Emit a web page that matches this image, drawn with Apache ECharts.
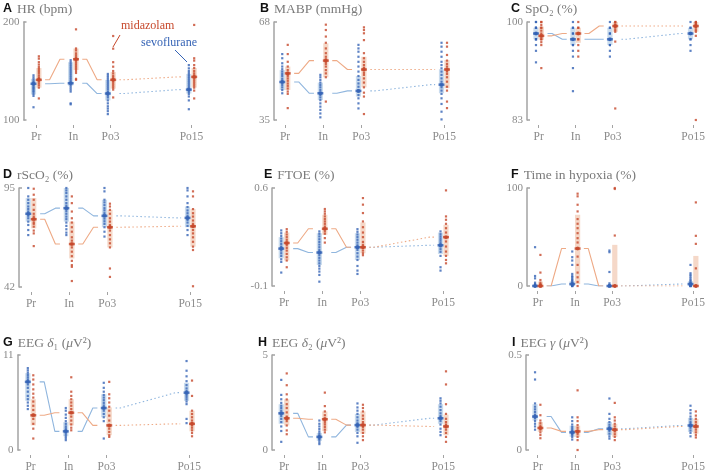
<!DOCTYPE html>
<html><head><meta charset="utf-8">
<script src="https://cdn.jsdelivr.net/npm/echarts@6/dist/echarts.min.js"></script>
<style>html,body{margin:0;padding:0;background:#fff}#c{width:708px;height:473px}</style>
</head><body><div id="c"></div>
<script>
// ---------- categories ----------
const times = ['Pr', 'In', 'Po3', 'Po15'];
const timePos = [0, 1, 2, 4.18];
const groups = ['sevoflurane', 'midazolam'];

// ---------- A: HR (bpm) ----------
const hrSevo = [
  [145.6,143.5,141.5,139.5,138.1,136.8,135.4,134.0,132.7,131.3,130.0,128.6,126.6,124.6,113],
  [161,159,157,155,153,151,149,147,145,143,141,139,137.5,135,133,131,129,117,116],
  [147,145,143,141,139,137,135,133,131,128.6,127,125,123,120,117,114,111.6,109,106],
  [156,152.7,150,148,146,144,142,140,138,136,134,132,130.6,128.6,126.6,124,120,111]
];
const hrMida = [
  [165,162.6,159,156.5,154,152,150,148,145.6,143.5,142,141,139.5,137.5,135.4,133,122],
  [192.5,173,171,168,166,164,162,160,158,156,154,152,150,148,142,141],
  [185.7,172.8,159,154.4,150,147.6,145,143,141,139,137,135,133,131,123],
  [197,163,160.6,156,153,150,147.6,145.6,143.5,141,139,137,135,133,130,122]
];
const hrSevoMed = [137,137.5,127,131];
const hrSevoIQR = [[126,142],[135,159],[120,141],[127,147]];
const hrMidaMed = [141,162,141,144];
const hrMidaIQR = [[133,153],[151,173],[132,149],[133,153]];

// ---------- B: MABP (mmHg) ----------
const mapSevo = [
  [57.2,55.8,54.1,53,52.1,51.3,50.5,49.8,48.9,48.2,47.6,46.8,46,45.1,44],
  [50.2,49.4,48.5,47.6,46.8,46,45.1,44.2,43.4,42.6,41.7,40.6,39.5,38.4,37.2,35.9],
  [60.3,59.1,58,56.3,54.6,53,51.3,49.8,48.5,47.3,46.2,45.1,44.6,43.4,42.3,40.6,38.9],
  [61,59.7,58,56.3,54.6,53.5,52.4,51.3,50.2,49,47.9,46.9,46,44.9,43.8,42.3,40.4,37.8,35.2]
];
const mapMida = [
  [60.3,57.2,54.6,53,51.8,50.9,50.5,49.8,49,48.2,47.3,46.5,45.6,44.6,43.8,39],
  [67.1,65.3,63.1,61,59.1,57.5,56.3,55.4,54.6,53.9,53,51.8,50.7,49.4,41.2],
  [66.2,65.3,64.2,61.9,57.5,55.8,54.6,53.5,52.6,51.8,50.9,50.2,49,47.6,46,44.2,42.9,37],
  [61,59.7,56.9,55,53.9,53,52.1,51.3,50.5,49.4,47.9,46.2,44.9,41.2,39]
];
const mapSevoMed = [47.8,44,44.8,46.9];
const mapSevoIQR = [[45.1,51.8],[41.7,47.6],[42.9,49.8],[44,52.1]];
const mapMidaMed = [50.7,55,52,52];
const mapMidaIQR = [[45.1,53],[49.4,60.8],[46,56.3],[45.7,55.2]];

// ---------- C: SpO2 (%) ----------
const spoSevo = [
  [100,100,99,99,99,98,98,98,98,97,97,97,96,95,93],
  [100,99,99,98,98,97,97,97,97,96,96,95,94,92,88],
  [100,99,99,98,98,97,97,97,97,96,96,95,94],
  [100,99,99,98,98,98,98,97,97,96,95]
];
const spoMida = [
  [100,100,99.5,99,99,98.5,98,97.5,97.5,97,97,96.5,96,92],
  [100,99,99,98,98,98,97,97,96,95,94],
  [100,100,99.6,99.3,99.3,99,98.6,98.3,96.6,85],
  [100,100,99.8,99.6,99.3,99.3,99,98.6,98.3,97.6,83]
];
const spoSevoMed = [98,97,97,98];
const spoSevoIQR = [[97,99],[96,99],[96,99],[97,99]];
const spoMidaMed = [97.6,98,99.3,99.3];
const spoMidaIQR = [[96.9,99.2],[96.4,99],[98.3,100],[98.3,100]];

// ---------- D: rScO2 (%) ----------
const rsoSevo = [
  [95,90.5,88.7,86.9,85.1,83.7,82.4,81.2,80.1,78.8,77,75.2,72.5,69.8],
  [95,93.7,92.3,90.5,88.7,86.9,85.5,84,82.6,81.2,79.7,78.3,76.5,74.7,72.9,71.1,69.8],
  [95,93.2,88.7,87.3,85.8,84.2,83,81.5,80.1,78.6,77.2,75.8,74,71.6,69],
  [95,93.7,90.5,86.9,84.8,83,81.5,80.1,79,77.9,76.5,74.7,72.5,69.8]
];
const rsoMida = [
  [94.6,91.4,88.7,86,83.3,81.2,79.7,78.6,76.6,75.8,74.3,72.2,70.7,63.9],
  [90.5,86.9,82.4,78.8,76.5,74,71.6,68.6,66.8,65,63.2,60.9,58.5,56,53.7,52.8,45.2],
  [86.6,85.1,83.3,81.2,78.8,77,75.2,74,72.2,69.8,67.5,65.4,63.2,51.9,47.4],
  [93.2,90.5,83.7,81.5,79.7,77.6,75.8,74.3,72.5,70.7,68.6,66.2,63.6,61.8,42.4]
];
const rsoSevoMed = [81.2,84.2,80.1,79];
const rsoSevoIQR = [[77,89.6],[77,95],[74,88.7],[74,85.1]];
const rsoMidaMed = [78.3,65,74,74.5];
const rsoMidaIQR = [[73.4,89.6],[57.3,77],[63.2,83.3],[63.6,83.7]];

// ---------- E: FTOE ----------
const ftoeSevo = [
  [0.297,0.277,0.258,0.239,0.22,0.201,0.182,0.167,0.153,0.134,0.115,0.091,0.072,-0.004],
  [0.29,0.273,0.254,0.234,0.215,0.196,0.177,0.158,0.139,0.12,0.101,0.082,0.062,0.043,0.024,0.003,-0.021,-0.069],
  [0.306,0.287,0.268,0.249,0.23,0.21,0.191,0.172,0.158,0.134,0.11,0.086,0.043,0.01,-0.014],
  [0.29,0.27,0.254,0.239,0.225,0.21,0.196,0.182,0.163,0.144,0.115,0.034,0.01]
];
const ftoeMida = [
  [0.306,0.287,0.268,0.249,0.23,0.21,0.191,0.172,0.153,0.129,0.105,0.082,0.034],
  [0.45,0.433,0.416,0.397,0.378,0.361,0.344,0.325,0.306,0.29,0.273,0.242,0.21],
  [0.528,0.481,0.421,0.361,0.32,0.282,0.249,0.215,0.194,0.172,0.153,0.134,0.12],
  [0.583,0.397,0.373,0.344,0.313,0.282,0.249,0.218,0.182,0.146,0.115,0.086,0.062]
];
const ftoeSevoMed = [0.167,0.139,0.177,0.191];
const ftoeSevoIQR = [[0.098,0.249],[0.05,0.277],[0.086,0.277],[0.129,0.282]];
const ftoeMidaMed = [0.207,0.309,0.177,0.249];
const ftoeMidaIQR = [[0.082,0.282],[0.266,0.409],[0.134,0.354],[0.115,0.337]];

// ---------- F: Time in hypoxia (%) ----------
const hypSevo = [
  [39.6,10.2,7.8,3.4,2,1,0,0,0,0,0,0,0,0],
  [35.2,29.4,26,21.5,12.3,10.2,8.9,7.5,6.1,4.8,3.4,2,1,0,0,0],
  [36.2,34.5,14.3,2.7,1,0,0,0,0,0,0,0],
  [21.5,13,11.3,9.6,7.8,6.1,4.8,3.4,2,1,0,0,0,0]
];
const hypMida = [
  [31.7,13.7,6.1,3.4,2,1,0,0,0,0,0,0],
  [94.2,91.5,82.9,76.1,68.3,63.5,59,53.9,48.8,44.4,38.2,30,21.5,13.7,8.9,4.1,0],
  [100,99,51.5,0,0,0,0,0,0,0],
  [85.3,51.2,43,18,0,0,0,0,0,0]
];
const hypSevoMed = [0,2,0,2];
const hypSevoIQR = [[0,1.5],[0,5],[0,1],[0,5]];
const hypMidaMed = [0,38.2,0,0];
const hypMidaIQR = [[0,4.5],[2,72.7],[0,42],[0,30.7]];

// ---------- G: EEG delta1 ----------
const d1Sevo = [
  [9.48,9.22,8.95,8.69,8.42,8.16,7.89,7.59,7.2,6.75,6.26,5.88,5.5,5.12,4.74],
  [4.86,4.55,4.1,3.72,3.34,3.03,2.73,2.5,2.28,2.05,1.82,1.59,1.37,1.14],
  [7.78,7.2,6.75,6.37,6.07,5.77,5.46,5.16,4.86,4.55,4.17,3.79,3.34,1.33],
  [10.3,9.18,8.53,7.97,7.51,7.13,6.83,6.6,6.37,6.14,5.88,5.61,5.31,3.6,3.11]
];
const d1Mida = [
  [8.65,8.16,7.59,7.02,6.52,6.07,5.61,5.12,4.63,4.1,3.6,3.03,2.47,1.33],
  [8.42,6.75,6.26,5.88,5.5,5.12,4.74,4.32,3.87,3.41,2.96,2.58,2.28],
  [7.89,6.45,5.99,5.5,5.01,4.55,3.98,3.41,2.85,2.47,2.09,1.71,1.52],
  [8.04,6.26,4.55,4.17,3.79,3.41,3.11,2.85,2.58,2.28,1.97,1.59]
];
const d1SevoMed = [7.89,2.16,4.86,6.64];
const d1SevoIQR = [[5.7,8.9],[1.59,3.22],[3.79,6.45],[5.69,7.78]];
const d1MidaMed = [4.02,4.32,2.85,3.03];
const d1MidaIQR = [[2.85,5.88],[2.85,5.88],[1.71,4.93],[2.16,4.55]];

// ---------- H: EEG delta2 ----------
const d2Sevo = [
  [3.69,2.9,2.67,2.48,2.33,2.21,2.07,1.93,1.79,1.64,1.47,1.24,1,0.43],
  [1.55,1.38,1.24,1.1,0.97,0.86,0.76,0.69,0.6,0.52,0.41,0.31],
  [2.45,2.24,2.07,1.9,1.72,1.55,1.41,1.31,1.21,1.07,0.9,0.72,0.38],
  [2.72,2.59,2.45,2.28,2.1,1.93,1.79,1.66,1.52,1.34,1.12,0.95,0.78]
];
const d2Mida = [
  [4.03,3.41,2.93,2.66,2.41,2.21,1.98,1.76,1.64,1.52,1.29,1.03,0.83],
  [3.02,2.31,2.03,1.83,1.66,1.55,1.45,1.34,1.21,1.07,0.93],
  [2.38,2.21,2.03,1.81,1.64,1.47,1.34,1.21,1.07,0.9,0.72,0.52],
  [4.14,3.45,2.41,1.9,1.64,1.47,1.34,1.21,1.07,0.9,0.69,0.43]
];
const d2SevoMed = [1.93,0.69,1.31,1.67];
const d2SevoIQR = [[1.38,2.41],[0.48,0.9],[0.95,1.9],[1.38,2.41]];
const d2MidaMed = [1.67,1.62,1.31,1.24];
const d2MidaIQR = [[1.29,2.67],[1.0,2.03],[0.86,2.03],[0.78,1.86]];

// ---------- I: EEG gamma ----------
const gSevo = [
  [0.409,0.371,0.245,0.228,0.214,0.2,0.186,0.176,0.166,0.152,0.138,0.124,0.107],
  [0.172,0.152,0.134,0.121,0.11,0.1,0.093,0.086,0.079,0.069,0.055],
  [0.271,0.19,0.164,0.147,0.133,0.121,0.11,0.1,0.086,0.072,0.06],
  [0.233,0.21,0.193,0.176,0.162,0.148,0.138,0.128,0.117,0.103,0.09,0.072]
];
const gMida = [
  [0.238,0.183,0.155,0.141,0.128,0.117,0.107,0.093,0.079,0.062],
  [0.314,0.172,0.152,0.131,0.117,0.103,0.093,0.083,0.069,0.052,0],
  [0.248,0.172,0.155,0.138,0.124,0.11,0.097,0.083,0.069,0.052],
  [0.203,0.181,0.164,0.148,0.134,0.121,0.107,0.093,0.079,0.066]
];
const gSevoMed = [0.176,0.093,0.112,0.129];
const gSevoIQR = [[0.155,0.241],[0.069,0.128],[0.078,0.147],[0.095,0.169]];
const gMidaMed = [0.116,0.098,0.107,0.124];
const gMidaIQR = [[0.095,0.147],[0.069,0.128],[0.069,0.138],[0.086,0.164]];

// ---------- panel titles and axis ranges ----------
const panelLetters = ['A','B','C','D','E','F','G','H','I'];
const panelTitles = ['HR (bpm)','MABP (mmHg)','SpO₂ (%)','rScO₂ (%)','FTOE (%)','Time in hypoxia (%)','EEG {it|δ}₁ ({it|μ}V²)','EEG {it|δ}₂ ({it|μ}V²)','EEG {it|γ} ({it|μ}V²)'];
const yMins = [100,35,83,42,-0.1,0,0,0,0];
const yMaxs = [200,68,100,95,0.6,100,11,5,0.5];

const panels = [
  [hrSevo,hrMida,hrSevoMed,hrMidaMed,hrSevoIQR,hrMidaIQR],
  [mapSevo,mapMida,mapSevoMed,mapMidaMed,mapSevoIQR,mapMidaIQR],
  [spoSevo,spoMida,spoSevoMed,spoMidaMed,spoSevoIQR,spoMidaIQR],
  [rsoSevo,rsoMida,rsoSevoMed,rsoMidaMed,rsoSevoIQR,rsoMidaIQR],
  [ftoeSevo,ftoeMida,ftoeSevoMed,ftoeMidaMed,ftoeSevoIQR,ftoeMidaIQR],
  [hypSevo,hypMida,hypSevoMed,hypMidaMed,hypSevoIQR,hypMidaIQR],
  [d1Sevo,d1Mida,d1SevoMed,d1MidaMed,d1SevoIQR,d1MidaIQR],
  [d2Sevo,d2Mida,d2SevoMed,d2MidaMed,d2SevoIQR,d2MidaIQR],
  [gSevo,gMida,gSevoMed,gMidaMed,gSevoIQR,gMidaIQR]
];

// ---------- layout ----------
const U = 38.1;                   // px per time unit
const layout = [                  // [axisX, firstTickX, top, bottom]
  [19,32,22,120],[274,285,22,120],[527,539,22,120],
  [19,31,188,287],[272,284,188,286],[527,538,188,286],
  [17,30,355,452],[272,284,355,452],[526,538,355,452]
];
const titleTops = [0,0,0,166,166,166,334,334,334];
const titleLefts = [3,260,511,3,264,511,3,258,512];

const C = {
  sevoDot:'#3563b5', midaDot:'#c6472a',
  sevoBox:'#cadcee', midaBox:'#f5d8c8',
  sevoLine:'#90b6de', midaLine:'#eeaa86',
  axis:'#a3a3a3', text:'#8a8a8a'
};
const SERIF = "'Liberation Serif','DejaVu Serif',serif";
const OFF = 0.072, LA = 0.24, LB = 0.36;

const grid = [], xAxis = [], yAxis = [], series = [], title = [];

panels.forEach((p, k) => {
  const [ax, p0, top, bottom] = layout[k];
  const xMin = -(p0 - ax) / U;
  const xMax = timePos[3] + 10 / U;
  grid.push({left: ax, top: top, width: (xMax - xMin) * U, height: bottom - top});
  xAxis.push({
    gridIndex: k, type: 'value', min: xMin, max: xMax, offset: 5, position: 'bottom',
    axisLine: {show: false, onZero: false}, splitLine: {show: false},
    axisTick: {show: true, customValues: timePos, length: 3, lineStyle: {color: C.axis, width: 1}},
    axisLabel: {customValues: timePos, margin: 6, fontFamily: SERIF, fontSize: 11.5, color: C.text,
      formatter: v => { let bi = 0; timePos.forEach((t, i) => { if (Math.abs(t - v) < Math.abs(timePos[bi] - v)) bi = i; }); return times[bi]; }}
  });
  yAxis.push({
    gridIndex: k, type: 'value', min: yMins[k], max: yMaxs[k], position: 'left',
    axisLine: {show: true, onZero: false, lineStyle: {color: C.axis, width: 1.5}},
    splitLine: {show: false},
    axisTick: {show: true, inside: true, length: 3, customValues: [yMins[k], yMaxs[k]], lineStyle: {color: C.axis, width: 1.5}},
    axisLabel: {customValues: [yMins[k], yMaxs[k]], margin: 4, fontFamily: SERIF, fontSize: 11, color: C.text}
  });
  title.push({
    text: '{b|' + panelLetters[k] + '} {t|' + panelTitles[k].replace(/\{it\|([^}]*)\}/g, '}{it|$1}{t|') + '}',
    left: titleLefts[k], top: titleTops[k], padding: 0,
    textStyle: {fontWeight: 'normal', rich: {
      b: {fontFamily: "'Liberation Sans',Arial,sans-serif", fontWeight: 'bold', fontSize: 12.5, color: '#111'},
      t: {fontFamily: SERIF, fontWeight: 'normal', fontSize: 13.5, color: '#7a7a7a'},
      it: {fontFamily: SERIF, fontWeight: 'normal', fontSize: 13.5, color: '#7a7a7a', fontStyle: 'italic'}
    }}
  });

  const [sevo, mida, sMed, mMed, sIQR, mIQR] = p;
  const groupsDef = [
    {vals: sevo, med: sMed, iqr: sIQR, off: -OFF, dot: C.sevoDot, box: C.sevoBox, line: C.sevoLine, name: groups[0]},
    {vals: mida, med: mMed, iqr: mIQR, off: OFF, dot: C.midaDot, box: C.midaBox, line: C.midaLine, name: groups[1]}
  ];
  groupsDef.forEach(g => {
    // IQR boxes
    series.push({
      type: 'custom', xAxisIndex: k, yAxisIndex: k, z: 1, silent: true, clip: false,
      data: g.iqr.map((q, t) => [timePos[t] + g.off, q[0], q[1]]),
      encode: {x: 0, y: [1, 2]},
      renderItem: (params, api) => {
        const lo = api.coord([api.value(0), api.value(1)]);
        const hi = api.coord([api.value(0), api.value(2)]);
        return {type: 'rect', shape: {x: lo[0] - 2.6, y: hi[1], width: 5.2, height: Math.max(lo[1] - hi[1], 1.5)},
                style: {fill: g.box}};
      }
    });
    // connecting median lines
    for (let t = 0; t < 3; t++) {
      const x1 = timePos[t], x2 = timePos[t + 1];
      series.push({
        type: 'line', xAxisIndex: k, yAxisIndex: k, z: 2, silent: true, symbol: 'none',
        lineStyle: {color: g.line, width: 1.1, type: t === 2 ? [1.5, 2.5] : 'solid'},
        data: [[x1 + LA, g.med[t]], [x1 + LB, g.med[t]], [x2 - LB, g.med[t + 1]], [x2 - LA, g.med[t + 1]]]
      });
    }
    // individual dots
    const pts = [];
    g.vals.forEach((arr, t) => arr.forEach(v => pts.push([timePos[t] + g.off, v])));
    series.push({
      type: 'scatter', xAxisIndex: k, yAxisIndex: k, z: 3, silent: true, clip: false,
      symbol: 'rect', symbolSize: 2.2, itemStyle: {color: g.dot}, data: pts
    });
    // medians
    series.push({
      type: 'scatter', xAxisIndex: k, yAxisIndex: k, z: 4, silent: true, clip: false,
      symbol: 'rect', symbolSize: [6, 2.5], itemStyle: {color: g.dot},
      data: g.med.map((m, t) => [timePos[t] + g.off, m])
    });
    series.push({
      type: 'scatter', xAxisIndex: k, yAxisIndex: k, z: 4, silent: true, clip: false,
      symbol: 'circle', symbolSize: 4, itemStyle: {color: g.dot},
      data: g.med.map((m, t) => [timePos[t] + g.off, m])
    });
  });
});

const chart = echarts.init(document.getElementById('c'), null, {renderer: 'canvas'});
chart.setOption({
  animation: false,
  backgroundColor: '#fff',
  title, grid, xAxis, yAxis, series,
  graphic: [
    {type: 'text', left: 121, top: 20, style: {text: 'midazolam', font: "12px 'Liberation Serif','DejaVu Serif',serif", fill: '#c6472a'}},
    {type: 'line', shape: {x1: 113, y1: 47, x2: 120, y2: 35}, style: {stroke: '#c6472a', lineWidth: 1}},
    {type: 'text', left: 141, top: 37, style: {text: 'sevoflurane', font: "12px 'Liberation Serif','DejaVu Serif',serif", fill: '#3563b5'}},
    {type: 'line', shape: {x1: 175, y1: 50, x2: 187, y2: 62}, style: {stroke: '#3563b5', lineWidth: 1}}
  ]
});
</script>
</body></html>
